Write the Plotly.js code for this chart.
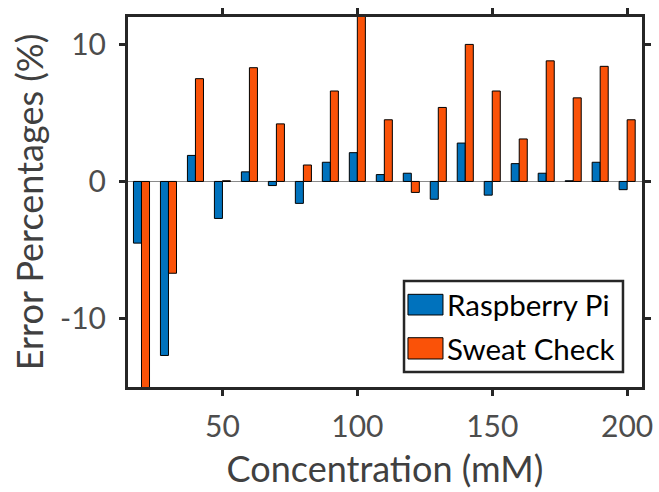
<!DOCTYPE html>
<html>
<head>
<meta charset="utf-8">
<script src="https://cdn.plot.ly/plotly-3.0.1.min.js"></script>
<style>html,body{margin:0;padding:0;background:#fff;}#chart{width:659px;height:492px;}</style>
</head>
<body>
<div id="chart"></div>
<script>
// Data
const concentrations = [20, 30, 40, 50, 60, 70, 80, 90, 100, 110, 120, 130, 140, 150, 160, 170, 180, 190, 200];
const raspberryPi = [-4.5, -12.7, 1.9, -2.7, 0.7, -0.3, -1.6, 1.4, 2.1, 0.5, 0.6, -1.3, 2.8, -1.0, 1.3, 0.6, 0.05, 1.4, -0.6];
const sweatCheck = [-16.0, -6.7, 7.5, 0.05, 8.3, 4.2, 1.2, 6.6, 12.2, 4.5, -0.8, 5.4, 10.0, 6.6, 3.1, 8.8, 6.1, 8.4, 4.5];
const seriesNames = ['Raspberry Pi', 'Sweat Check'];
const xTicks = [50, 100, 150, 200];
const yTicks = [-10, 0, 10];

const blue = '#0072BD';
const orange = '#FA5208';
const frame = '#262626';
const FONT = 'Lato, "Open Sans", sans-serif';

const traces = [
  {type: 'bar', x: concentrations, y: raspberryPi, name: seriesNames[0],
   marker: {color: blue, line: {color: '#000', width: 1}}},
  {type: 'bar', x: concentrations, y: sweatCheck, name: seriesNames[1],
   marker: {color: orange, line: {color: '#000', width: 1}}}
];

// Custom legend (MATLAB-style wide swatches)
const L = {x0: 0.537, x1: 0.963, y0: 0.0405, y1: 0.2865};
const shapes = [
  {type: 'rect', xref: 'paper', yref: 'paper', x0: L.x0, x1: L.x1, y0: L.y0, y1: L.y1,
   fillcolor: '#fff', line: {color: frame, width: 2.5}, layer: 'above'},
  {type: 'rect', xref: 'paper', yref: 'paper', x0: 0.5447, x1: 0.6128, y0: 0.1946, y1: 0.2505,
   fillcolor: blue, line: {color: '#000', width: 1}, layer: 'above'},
  {type: 'rect', xref: 'paper', yref: 'paper', x0: 0.5447, x1: 0.6128, y0: 0.0757, y1: 0.1332,
   fillcolor: orange, line: {color: '#000', width: 1}, layer: 'above'}
];
const annotations = [
  {xref: 'paper', yref: 'paper', x: 0.616, y: 0.2243, xanchor: 'left', yanchor: 'middle',
   text: seriesNames[0], showarrow: false, font: {family: FONT, size: 29.5, color: '#000'}},
  {xref: 'paper', yref: 'paper', x: 0.616, y: 0.1054, xanchor: 'left', yanchor: 'middle',
   text: seriesNames[1], showarrow: false, font: {family: FONT, size: 29.5, color: '#000'}}
];

const layout = {
  width: 659, height: 492,
  margin: {l: 128, r: 17, t: 17, b: 105, pad: 0},
  paper_bgcolor: '#fff', plot_bgcolor: '#fff',
  barmode: 'group', bargap: 0.405, bargroupgap: 0,
  showlegend: false,
  font: {family: FONT, color: '#4d4d4d'},
  xaxis: {
    range: [15, 205.5], tickvals: xTicks, ticktext: xTicks.map(String),
    showgrid: false, zeroline: false,
    showline: true, mirror: 'ticks', linecolor: frame, linewidth: 3,
    ticks: 'outside', ticklen: 6, tickwidth: 3, tickcolor: frame,
    ticklabelstandoff: 5,
    tickfont: {family: FONT, size: 30, color: '#4d4d4d'},
    title: {text: 'Concentration (mM)', font: {family: FONT, size: 36, color: '#404040'}, standoff: 15}
  },
  yaxis: {
    range: [-15, 12], tickvals: yTicks, ticktext: yTicks.map(String),
    showgrid: false, zeroline: true, zerolinecolor: '#8a8a8a', zerolinewidth: 1.5,
    showline: true, mirror: 'ticks', linecolor: frame, linewidth: 3,
    ticks: 'outside', ticklen: 6, tickwidth: 3, tickcolor: frame,
    ticklabelstandoff: 7,
    tickfont: {family: FONT, size: 30, color: '#4d4d4d'},
    title: {text: 'Error Percentages (%)', font: {family: FONT, size: 36, color: '#404040'}, standoff: 6}
  },
  shapes: shapes,
  annotations: annotations
};

Plotly.newPlot('chart', traces, layout, {staticPlot: true, displayModeBar: false});
</script>
</body>
</html>
